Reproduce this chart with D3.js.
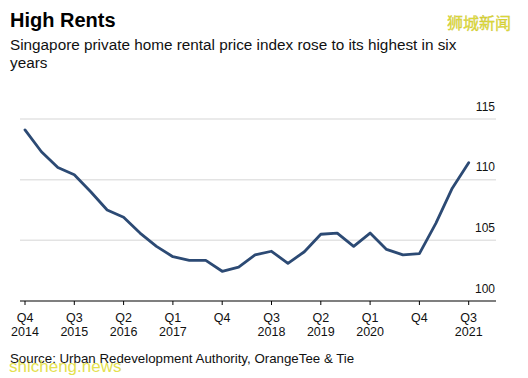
<!DOCTYPE html>
<html><head><meta charset="utf-8">
<script src="https://cdn.jsdelivr.net/npm/d3@7"></script>
<style>body{margin:0;background:#fff;}svg{display:block;font-family:"Liberation Sans",Arial,sans-serif;}</style>
</head><body>
<svg id="c" width="528" height="378"></svg>
<script>
const quarters = ["Q4 2014","Q1 2015","Q2 2015","Q3 2015","Q4 2015","Q1 2016","Q2 2016","Q3 2016","Q4 2016","Q1 2017","Q2 2017","Q3 2017","Q4 2017","Q1 2018","Q2 2018","Q3 2018","Q4 2018","Q1 2019","Q2 2019","Q3 2019","Q4 2019","Q1 2020","Q2 2020","Q3 2020","Q4 2020","Q1 2021","Q2 2021","Q3 2021"];
const values = [114.1,112.3,111.0,110.4,109.0,107.5,106.9,105.6,104.5,103.65,103.35,103.35,102.45,102.8,103.8,104.1,103.1,104.06,105.5,105.6,104.5,105.6,104.25,103.8,103.9,106.4,109.3,111.4];
const tickQuarters = ["Q4 2014","Q3 2015","Q2 2016","Q1 2017","Q4 2017","Q3 2018","Q2 2019","Q1 2020","Q4 2020","Q3 2021"];
const tickLabels = [["Q4","2014"],["Q3","2015"],["Q2","2016"],["Q1","2017"],["Q4",""],["Q3","2018"],["Q2","2019"],["Q1","2020"],["Q4",""],["Q3","2021"]];
const yTicks = [100,105,110,115];

const svg = d3.select("#c");
const x = d3.scalePoint().domain(quarters).range([25, 468.7]);
const y = d3.scaleLinear().domain([100,115]).range([301, 119]);
const left = 20, right = 496;

// title
svg.append("text").attr("x",10).attr("y",27).attr("font-size",20).attr("font-weight","bold").attr("fill","#000").text("High Rents");
svg.append("text").attr("x",10).attr("y",50).attr("font-size",15.3).attr("fill","#111").text("Singapore private home rental price index rose to its highest in six");
svg.append("text").attr("x",10).attr("y",68).attr("font-size",15.3).attr("fill","#111").text("years");
svg.append("text").attr("x",511).attr("y",28.5).attr("text-anchor","end").attr("font-size",16).attr("font-family","Noto Sans CJK SC").attr("fill","#e2e03a").attr("stroke","#c8c030").attr("stroke-width",0.3).text("狮城新闻");

// gridlines
svg.append("g").selectAll("line").data(yTicks.filter(d=>d>100)).join("line")
  .attr("x1",left).attr("x2",right).attr("y1",d=>y(d)).attr("y2",d=>y(d))
  .attr("stroke","#e3e3e3").attr("stroke-width",1.5);
svg.append("g").selectAll("text").data(yTicks).join("text")
  .attr("x",495).attr("y",d=>y(d)-8.5).attr("text-anchor","end").attr("font-size",12).attr("fill","#111").text(d=>d);

// x axis
svg.append("line").attr("x1",left).attr("x2",right).attr("y1",301).attr("y2",301).attr("stroke","#000").attr("stroke-width",1.2);
const tg = svg.append("g").selectAll("g").data(tickQuarters).join("g").attr("transform",d=>`translate(${x(d)},301)`);
tg.append("line").attr("y1",0).attr("y2",4).attr("stroke","#000");
tg.append("text").attr("y",20.5).attr("text-anchor","middle").attr("font-size",12.5).attr("fill","#111").text((d,i)=>tickLabels[i][0]);
tg.append("text").attr("y",34.5).attr("text-anchor","middle").attr("font-size",12.5).attr("fill","#111").text((d,i)=>tickLabels[i][1]);

// line
const line = d3.line().x((d,i)=>x(quarters[i])).y(d=>y(d));
svg.append("path").datum(values).attr("d",line).attr("fill","none").attr("stroke","#2c4a74").attr("stroke-width",2.8).attr("stroke-linejoin","round").attr("stroke-linecap","round");

// source
svg.append("text").attr("x",10).attr("y",363).attr("font-size",13.3).attr("fill","#111").text("Source: Urban Redevelopment Authority, OrangeTee & Tie");
svg.append("text").attr("x",9).attr("y",372).attr("font-size",17).attr("fill","#e0dc30").attr("opacity",0.85).text("shicheng.news");
</script>
</body></html>
